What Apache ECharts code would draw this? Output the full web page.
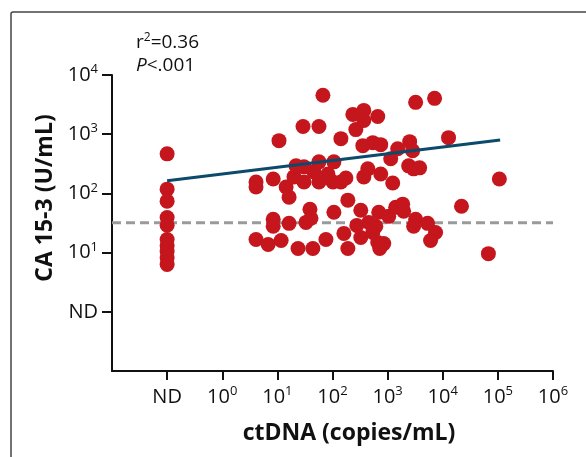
<!DOCTYPE html>
<html>
<head>
<meta charset="utf-8">
<script src="https://cdn.jsdelivr.net/npm/echarts@6/dist/echarts.min.js"></script>
<style>
html,body{margin:0;padding:0;background:#fff;}
#c{width:586px;height:457px;}
</style>
</head>
<body>
<div id="c"></div>
<script>
// ---- data ----
const ND_X = 0.1;   // "ND" position on ctDNA axis
const ND_Y = 1;     // "ND" position on CA 15-3 axis
const xTicks = [0.1, 1, 10, 100, 1000, 10000, 100000, 1000000];
const yTicks = [1, 10, 100, 1000, 10000];
const ctDNA = [4.1,4.1,8.4,10.7,14.4,16.3,20,21.8,29.2,30.4,30.4,4.1,6.8,11.7,8.4,8.4,16.3,23.7,33,39,
  40.7,44,56.8,67,56.8,56.8,46,76,82.6,106,102,106,142,142,161,175,190,190,234,265,
  370,370,662,355,538,750,437,370,276,326,326,455,538,610,662,850,720,690,750,1237,
  1047,1400,1875,1955,1523,2512,2844,1138,2408,2965,3806,3222,7110,12735,3222,2965,5309,7411,6012,21878,
  106400,67300];
const ca153 = [156,128,175,778,128,86.5,190,292,1346,281,156,16.6,13.7,16,36.5,27.8,31.2,11.7,32.4,54,
  38,11.7,1346,4546,341,156,231,16.6,213,341,156,48,841,156,21.1,182,76.9,11.7,2158,1197,
  2523,1706,1995,640,720,666,260,190,28.8,52,18,32.4,21.9,27.8,14.8,14.2,11.7,48,213,150,
  41,58.5,65.8,50,569,748,526,384,292,260,270,3451,4036,875,36.5,27.8,31.2,21.9,16,60.8,
  175,9.6];
const ndCa153 = [466,118,74,39,29,16.6,13,10.4,8.2,6.3];
const cutoff = 32;
const regression = [[0.1,164],[110000,800]];
const xRange = [0.01, 1000000];
const yRange = [0.1, 10000];

// ---- chart ----
const chart = echarts.init(document.getElementById('c'), null, {renderer:'canvas'});
const FONT = 'Open Sans';
const red = '#c5161d';
const mainPts = ctDNA.map((x,i)=>[x, ca153[i]]);
const ndPts = ndCa153.map(y=>[ND_X, y]);

function expLabel(v, ndVal){
  if (Math.abs(v - ndVal) < ndVal*1e-6) return '{b|ND}';
  const e = Math.round(Math.log10(v));
  return '{b|10}{s|' + e + '}';
}
const rich = {
  b:{fontSize:20, fontFamily:FONT, color:'#111', lineHeight:24},
  s:{fontSize:13, fontFamily:FONT, color:'#111', verticalAlign:'top', lineHeight:12}
};

chart.setOption({
  animation:false,
  backgroundColor:'#fff',
  grid:{left:112, right:33, top:75, bottom:86, containLabel:false},
  xAxis:{
    type:'log', logBase:10, min:xRange[0], max:xRange[1],
    axisLine:{show:true, onZero:false, lineStyle:{color:'#111', width:2}},
    axisTick:{show:true, length:9, lineStyle:{color:'#111', width:2}, customValues:xTicks},
    axisLabel:{customValues:xTicks, margin:14, formatter:v=>expLabel(v, ND_X), rich:rich},
    splitLine:{show:false}
  },
  yAxis:{
    type:'log', logBase:10, min:yRange[0], max:yRange[1],
    axisLine:{show:true, onZero:false, lineStyle:{color:'#111', width:2}},
    axisTick:{show:true, length:10, lineStyle:{color:'#111', width:2}, customValues:yTicks},
    axisLabel:{customValues:yTicks, margin:14, formatter:v=>expLabel(v, ND_Y), rich:rich},
    splitLine:{show:false}
  },
  series:[
    {type:'line', data:[[xRange[0],cutoff],[xRange[1],cutoff]], symbol:'none', silent:true, z:1,
     lineStyle:{color:'#9a9a9a', width:3, type:[9,5]}},
    {type:'scatter', data:mainPts, symbol:'circle', symbolSize:15, z:2,
     itemStyle:{color:red, opacity:1}},
    {type:'scatter', data:ndPts, symbol:'circle', symbolSize:15, z:2,
     itemStyle:{color:red, opacity:1}},
    {type:'line', data:regression, symbol:'none', z:3,
     lineStyle:{color:'#0b4a6b', width:3}}
  ],
  graphic:[
    {type:'rect', shape:{x:11, y:12, width:800, height:800, r:2}, silent:true, z:-10,
     style:{fill:null, stroke:'#444', lineWidth:1.5}},
    {type:'text', x:136, y:43, style:{text:'{a|r}{s|2}{a|=0.36}', verticalAlign:'middle',
      rich:{a:{fontSize:19, fontFamily:FONT, fill:'#111', lineHeight:22},
            s:{fontSize:12, fontFamily:FONT, fill:'#111', verticalAlign:'top', lineHeight:12}}}},
    {type:'text', x:136, y:66, style:{text:'{i|P}{a|<.001}', verticalAlign:'middle',
      rich:{a:{fontSize:19, fontFamily:FONT, fill:'#111'},
            i:{fontSize:19, fontFamily:FONT, fontStyle:'italic', fill:'#111'}}}},
    {type:'text', x:349, y:433, style:{text:'ctDNA (copies/mL)', align:'center', verticalAlign:'middle',
      font:'bold 23px "Open Sans"', fill:'#111'}},
    {type:'text', x:45, y:198, rotation:Math.PI/2, style:{text:'CA 15-3 (U/mL)', align:'center', verticalAlign:'middle',
      font:'bold 23px "Open Sans"', fill:'#111'}}
  ]
});
</script>
</body>
</html>
